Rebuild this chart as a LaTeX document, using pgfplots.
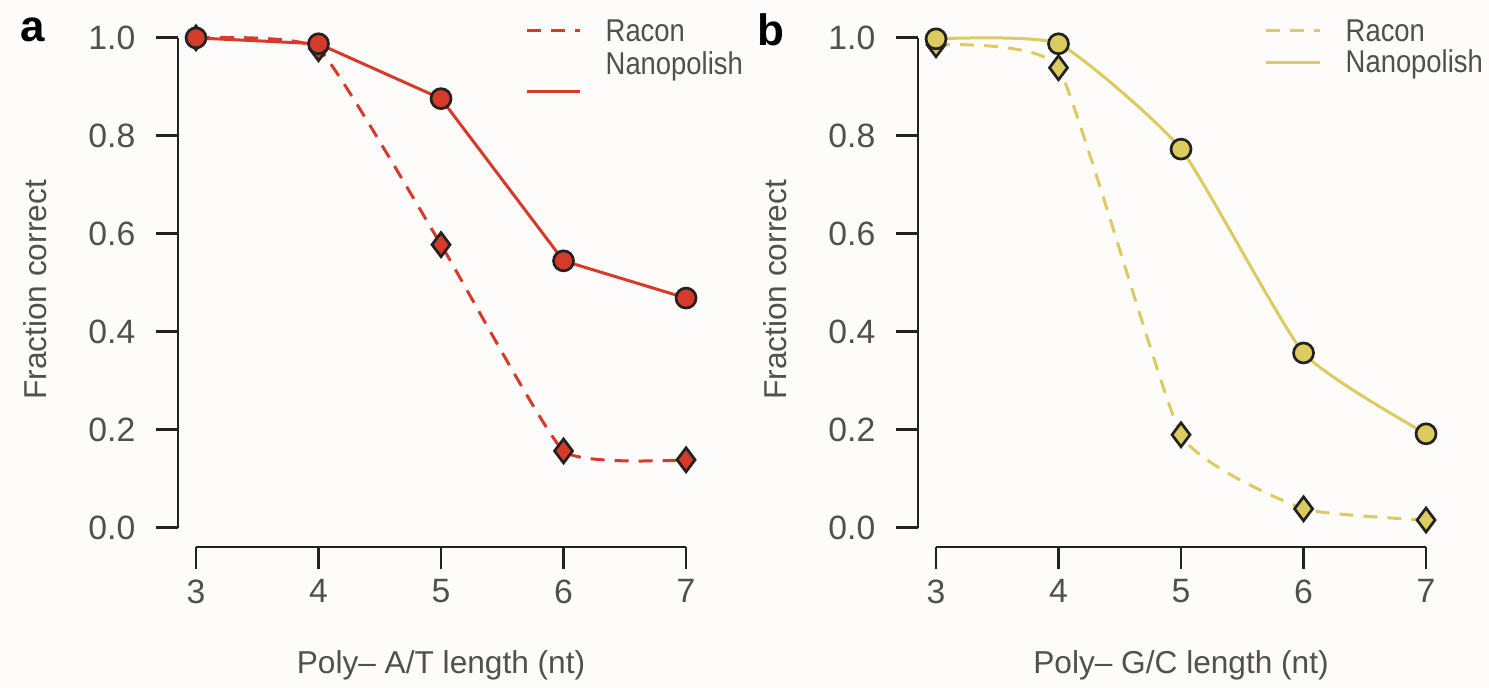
\documentclass[border=0pt]{standalone}
\usepackage{pgfplots}
\pgfplotsset{compat=1.18}
\usepackage{fontspec}
\setmainfont{Liberation Sans}
\definecolor{cred}{RGB}{214,58,42}
\definecolor{cyel}{RGB}{220,203,94}
\definecolor{txt}{RGB}{80,80,80}
\definecolor{axc}{RGB}{34,34,34}
\definecolor{bg}{RGB}{253,252,250}
\pgfplotsset{
  panel/.style={
    scale only axis, width=52.03mm, height=51.89mm,
    xmin=2.853, xmax=7.1, ymin=-0.039, ymax=1.02,
    axis lines*=left, axis line style={draw=none},
    xtick={3,4,5,6,7}, xticklabels={3,4,5,6,7},
    ytick={0,0.2,0.4,0.6,0.8,1.0}, yticklabels={0.0,0.2,0.4,0.6,0.8,1.0},
    tick align=outside, major tick length=2.2mm,
    every tick/.style={axc, line width=0.28mm},
    tick label style={font=\fontsize{9.6}{11}\selectfont, color=txt, inner sep=0pt},
    xticklabel style={yshift=-1.0mm},
    yticklabel style={xshift=-2.0mm},
    clip=false,
  },
  rac/.style={line width=0.3mm, dash pattern=on 1.4mm off 1.0mm, mark=diamond*, mark size=1.2mm},
  nano/.style={line width=0.3mm, mark=*, mark size=1.0mm},
}
\begin{document}
\begin{tikzpicture}
\fill[bg] (0,0) rectangle (148.9mm,-68.8mm);
\path[use as bounding box] (0,0) rectangle (148.9mm,-68.8mm);
% Panel a
\begin{axis}[panel, at={(17.8mm,-54.7mm)}, anchor=south west]
\draw[axc, line width=0.28mm] (axis cs:2.853,0) -- (axis cs:2.853,1);
\draw[axc, line width=0.28mm] (axis cs:3,-0.039) -- (axis cs:7,-0.039);
\addplot[rac, color=cred, smooth, tension=0.25, mark options={solid, draw=axc, fill=cred, line width=0.27mm}] coordinates {(3,1.0) (4,0.978) (5,0.578) (6,0.157) (7,0.139)};
\addplot[nano, color=cred, mark options={solid, draw=axc, fill=cred, line width=0.27mm}] coordinates {(3,1.0) (4,0.988) (5,0.876) (6,0.545) (7,0.469)};
\end{axis}
% Panel b
\begin{axis}[panel, at={(91.8mm,-54.7mm)}, anchor=south west]
\draw[axc, line width=0.28mm] (axis cs:2.853,0) -- (axis cs:2.853,1);
\draw[axc, line width=0.28mm] (axis cs:3,-0.039) -- (axis cs:7,-0.039);
\addplot[rac, color=cyel, smooth, tension=0.25, mark options={solid, draw=axc, fill=cyel, line width=0.27mm}] coordinates {(3,0.986) (4,0.939) (5,0.190) (6,0.039) (7,0.016)};
\addplot[nano, color=cyel, smooth, tension=0.3, mark options={solid, draw=axc, fill=cyel, line width=0.27mm}] coordinates {(3,0.998) (4,0.988) (5,0.773) (6,0.357) (7,0.192)};
\end{axis}
\begin{scope}[x=0.1mm,y=-0.1mm]
\node[font=\fontsize{12.5}{14}\selectfont\bfseries, text=black] at (33,30) {a};
\node[font=\fontsize{12.5}{14}\selectfont\bfseries, text=black] at (771,30) {b};
% legends
\draw[cred, line width=0.3mm, dash pattern=on 1.4mm off 1.0mm] (527,31) -- (580,31);
\draw[cred, line width=0.3mm] (527,92) -- (580,92);
\node[anchor=west, inner sep=0pt, yscale=1.15, font=\fontsize{7.8}{9}\selectfont, text=txt] at (605,31) {Racon};
\node[anchor=west, inner sep=0pt, yscale=1.15, font=\fontsize{7.8}{9}\selectfont, text=txt] at (605,66) {Nanopolish};
\draw[cyel, line width=0.3mm, dash pattern=on 1.4mm off 1.0mm] (1266,31) -- (1320,31);
\draw[cyel, line width=0.3mm] (1266,63) -- (1320,63);
\node[anchor=west, inner sep=0pt, yscale=1.15, font=\fontsize{7.8}{9}\selectfont, text=txt] at (1345,31) {Racon};
\node[anchor=west, inner sep=0pt, yscale=1.15, font=\fontsize{7.8}{9}\selectfont, text=txt] at (1345,64) {Nanopolish};
% axis labels
\node[font=\fontsize{9}{11}\selectfont, text=txt] at (441,665) {Poly– A/T length (nt)};
\node[font=\fontsize{9}{11}\selectfont, text=txt] at (1181,665) {Poly– G/C length (nt)};
\node[font=\fontsize{9}{11}\selectfont, text=txt, rotate=90] at (35,290) {Fraction correct};
\node[font=\fontsize{9}{11}\selectfont, text=txt, rotate=90] at (775,290) {Fraction correct};
\end{scope}
\end{tikzpicture}
\end{document}
